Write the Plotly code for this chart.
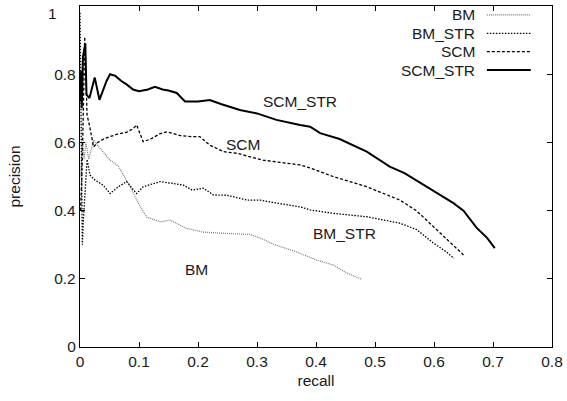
import plotly.graph_objects as go

# ---- data ----
bm_recall = [0.001, 0.004, 0.007, 0.010, 0.015, 0.023, 0.035, 0.051, 0.065, 0.075, 0.085, 0.099,
             0.113, 0.136, 0.153, 0.180, 0.209, 0.249, 0.288, 0.305, 0.330, 0.365, 0.401, 0.430,
             0.452, 0.477]
bm_prec = [0.50, 0.60, 0.55, 0.60, 0.55, 0.607, 0.58, 0.548, 0.53, 0.50, 0.47, 0.422,
           0.381, 0.367, 0.372, 0.348, 0.337, 0.333, 0.330, 0.320, 0.300, 0.280, 0.255, 0.240,
           0.217, 0.199]

bmstr_recall = [0.000, 0.002, 0.004, 0.006, 0.008, 0.012, 0.017, 0.025, 0.039, 0.051, 0.065, 0.079,
                0.096, 0.107, 0.136, 0.175, 0.190, 0.209, 0.226, 0.249, 0.283, 0.305, 0.340, 0.373,
                0.390, 0.429, 0.486, 0.542, 0.570, 0.599, 0.620, 0.634]
bmstr_prec = [0.98, 0.70, 0.30, 0.38, 0.45, 0.55, 0.504, 0.49, 0.475, 0.45, 0.47, 0.485,
              0.45, 0.47, 0.485, 0.475, 0.46, 0.466, 0.446, 0.445, 0.431, 0.431, 0.42, 0.411,
              0.402, 0.392, 0.382, 0.363, 0.345, 0.305, 0.28, 0.26]

scm_recall = [0.001, 0.004, 0.008, 0.012, 0.016, 0.023, 0.030, 0.040, 0.051, 0.065, 0.079, 0.090,
              0.096, 0.107, 0.120, 0.135, 0.147, 0.170, 0.190, 0.203, 0.220, 0.243, 0.266, 0.310,
              0.373, 0.390, 0.429, 0.486, 0.542, 0.570, 0.599, 0.625, 0.650]
scm_prec = [0.40, 0.55, 0.91, 0.68, 0.65, 0.587, 0.60, 0.61, 0.617, 0.625, 0.63, 0.64,
            0.651, 0.602, 0.61, 0.625, 0.631, 0.62, 0.617, 0.617, 0.592, 0.573, 0.568, 0.548,
            0.534, 0.525, 0.50, 0.47, 0.431, 0.40, 0.353, 0.31, 0.27]

scmstr_recall = [0.001, 0.002, 0.003, 0.005, 0.009, 0.011, 0.016, 0.025, 0.033, 0.045, 0.051, 0.060,
                 0.070, 0.079, 0.090, 0.100, 0.115, 0.127, 0.140, 0.150, 0.164, 0.178, 0.200, 0.220,
                 0.240, 0.254, 0.271, 0.300, 0.333, 0.373, 0.390, 0.407, 0.440, 0.486, 0.525, 0.550,
                 0.588, 0.633, 0.650, 0.672, 0.690, 0.703]
scmstr_prec = [0.72, 0.81, 0.70, 0.85, 0.89, 0.74, 0.73, 0.79, 0.725, 0.78, 0.80, 0.795,
               0.78, 0.77, 0.755, 0.75, 0.755, 0.763, 0.755, 0.752, 0.745, 0.72, 0.72, 0.724,
               0.712, 0.705, 0.695, 0.685, 0.666, 0.651, 0.646, 0.627, 0.61, 0.573, 0.529, 0.51,
               0.47, 0.422, 0.40, 0.35, 0.32, 0.29]

series_names = ["BM", "BM_STR", "SCM", "SCM_STR"]
x_ticks = [0, 0.1, 0.2, 0.3, 0.4, 0.5, 0.6, 0.7, 0.8]
y_ticks = [0, 0.2, 0.4, 0.6, 0.8, 1]

# in-plot curve labels: (text, recall, precision)
curve_labels = [("SCM_STR", 0.373, 0.72), ("SCM", 0.276, 0.595),
                ("BM_STR", 0.449, 0.334), ("BM", 0.198, 0.226)]

styles = [
    dict(color="#7a7a7a", width=1.2, dash="1px,1px"),
    dict(color="black", width=1.3, dash="1.5px,1.5px"),
    dict(color="black", width=1.3, dash="3px,2px"),
    dict(color="black", width=2, dash="solid"),
]
xs = [bm_recall, bmstr_recall, scm_recall, scmstr_recall]
ys = [bm_prec, bmstr_prec, scm_prec, scmstr_prec]

FONT = "Liberation Sans, Arial, sans-serif"
FS = 15.5
TXT = "#1a1a1a"
fig = go.Figure()
for name, x, y, st in zip(series_names, xs, ys, styles):
    fig.add_trace(go.Scatter(x=x, y=y, mode="lines", name=name, line=st, showlegend=False))

for text, xv, yv in curve_labels:
    fig.add_annotation(x=xv, y=yv, text=text, showarrow=False,
                       font=dict(family=FONT, size=FS, color=TXT))

# manual gnuplot-style legend (text right, sample on the right)
leg_top = 0.974
leg_step = 0.054
for i, (name, st) in enumerate(zip(series_names, styles)):
    yp = leg_top - i * leg_step
    fig.add_annotation(xref="paper", yref="paper", x=0.842, y=yp, text=name,
                       showarrow=False, xanchor="right", yanchor="middle",
                       font=dict(family=FONT, size=FS, color=TXT))
    fig.add_shape(type="line", xref="paper", yref="paper",
                  x0=0.862, x1=0.955, y0=yp, y1=yp, line=st)

# top y tick label sits slightly below the frame edge in the reference
y_ticktext = [f"{v:g}" for v in y_ticks]
top_label = y_ticktext[-1]
y_ticktext[-1] = ""
fig.add_annotation(xref="paper", yref="y", x=0, y=y_ticks[-1], text=top_label,
                   showarrow=False, xanchor="center", yanchor="middle",
                   xshift=-28, yshift=-7, font=dict(family=FONT, size=FS, color=TXT))

axis_common = dict(showline=True, linecolor="black", linewidth=1.3, mirror="ticks",
                   ticks="inside", ticklen=5, tickcolor="black", showgrid=False,
                   zeroline=False, automargin=False, ticklabeloverflow="allow",
                   tickfont=dict(family=FONT, size=FS, color=TXT))
fig.update_xaxes(range=[0, 0.8], tickvals=x_ticks, ticktext=[f"{v:g}" for v in x_ticks],
                 title=dict(text="recall", font=dict(family=FONT, size=FS, color=TXT),
                            standoff=6), **axis_common)
fig.update_yaxes(range=[0, 1], tickvals=y_ticks, ticktext=y_ticktext,
                 title=dict(text="precision", font=dict(family=FONT, size=FS, color=TXT),
                            standoff=29), **axis_common)
fig.update_layout(width=567, height=401, margin=dict(l=80, r=15, t=6, b=54),
                  plot_bgcolor="white", paper_bgcolor="white",
                  font=dict(family=FONT, size=FS, color=TXT))
fig.write_html("out.html", config={"displayModeBar": False},
               post_script="document.body.style.margin='0px';")
